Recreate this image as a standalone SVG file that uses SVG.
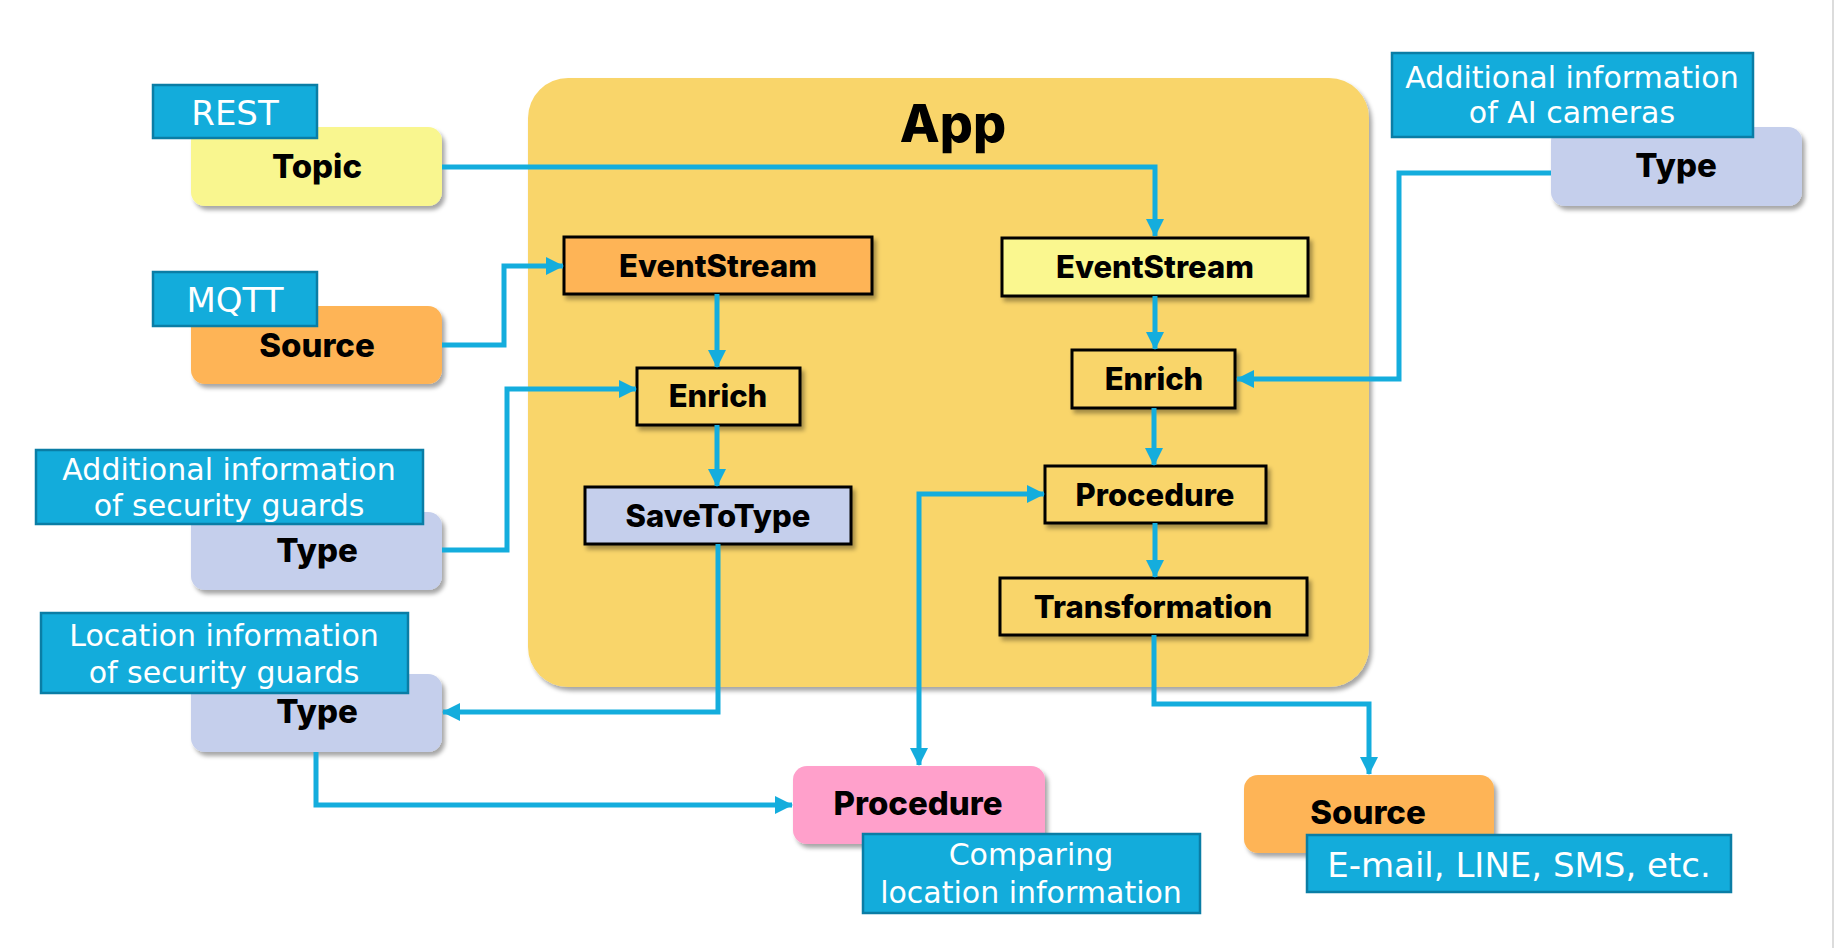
<svg xmlns="http://www.w3.org/2000/svg" width="1834" height="948" viewBox="0 0 1834 948">
<defs>
<filter id="sh" x="-10%" y="-10%" width="130%" height="140%">
<feDropShadow dx="3" dy="4" stdDeviation="2" flood-color="#000" flood-opacity="0.35"/>
</filter>
<marker id="ah" markerUnits="userSpaceOnUse" markerWidth="18" markerHeight="18" refX="17" refY="9" orient="auto-start-reverse">
<path d="M0,0 L18,9 L0,18 z" fill="#14ADDD"/>
</marker>
<style>
.ext{stroke:none;filter:url(#sh)}
.inn{stroke:#000;stroke-width:3;filter:url(#sh)}
.nt{font-family:Inter,"Lato","Liberation Sans",sans-serif;font-weight:800;fill:#000;text-anchor:middle}
.lb{fill:#13ACDB;stroke:#0A7DA5;stroke-width:2.5}
.lt{font-family:"DejaVu Sans",Verdana,sans-serif;fill:#fff;text-anchor:middle}
.c{fill:none;stroke:#14ADDD;stroke-width:5}
</style>
</defs>
<rect width="1834" height="948" fill="#fff"/>
<line x1="1833" y1="0" x2="1833" y2="948" stroke="#d0d0d0" stroke-width="1.5"/>

<g id="app">
<rect x="528" y="78" width="841" height="609" rx="40" fill="#F9D56A" class="ext"/>
<text x="953" y="142" class="nt" font-size="52" font-weight="900">App</text>
</g>

<g id="topic">
<rect x="191" y="127" width="251" height="79" rx="14" fill="#F9F68F" class="ext"/>
<text x="317" y="178" class="nt" font-size="33">Topic</text>
<rect x="153" y="85" width="164" height="53" class="lb"/>
<text x="235" y="125" class="lt" font-size="34">REST</text>
</g>

<g id="source-mqtt">
<rect x="191" y="306" width="251" height="78" rx="14" fill="#FEB456" class="ext"/>
<text x="317" y="357" class="nt" font-size="33">Source</text>
<rect x="153" y="272" width="164" height="54" class="lb"/>
<text x="235" y="312" class="lt" font-size="34">MQTT</text>
</g>

<g id="type-guards-info">
<rect x="191" y="512" width="251" height="78" rx="14" fill="#C5CFEC" class="ext"/>
<text x="317" y="562" class="nt" font-size="33">Type</text>
<rect x="36" y="450" width="387" height="74" class="lb"/>
<text x="229" y="480" class="lt" font-size="30">Additional information</text>
<text x="229" y="516" class="lt" font-size="30">of security guards</text>
</g>

<g id="type-guards-location">
<rect x="191" y="674" width="251" height="78" rx="14" fill="#C5CFEC" class="ext"/>
<rect x="41" y="613" width="367" height="80" class="lb"/>
<text x="224" y="646" class="lt" font-size="30">Location information</text>
<text x="224" y="683" class="lt" font-size="30">of security guards</text>
<text x="317" y="723" class="nt" font-size="33">Type</text>
</g>

<g id="type-cameras">
<rect x="1551" y="127" width="251" height="79" rx="14" fill="#C5CFEC" class="ext"/>
<text x="1676" y="177" class="nt" font-size="33">Type</text>
<rect x="1392" y="53" width="361" height="84" class="lb"/>
<text x="1572" y="88" class="lt" font-size="30">Additional information</text>
<text x="1572" y="123" class="lt" font-size="30">of AI cameras</text>
</g>

<g id="procedure-compare">
<rect x="793" y="766" width="252" height="78" rx="14" fill="#FFA0CB" class="ext"/>
<text x="918" y="815" class="nt" font-size="33">Procedure</text>
<rect x="863" y="834" width="337" height="79" class="lb"/>
<text x="1031" y="865" class="lt" font-size="30">Comparing</text>
<text x="1031" y="903" class="lt" font-size="30">location information</text>
</g>

<g id="source-notify">
<rect x="1244" y="775" width="250" height="78" rx="14" fill="#FEB456" class="ext"/>
<text x="1368" y="824" class="nt" font-size="33">Source</text>
<rect x="1307" y="835" width="424" height="57" class="lb"/>
<text x="1519" y="877" class="lt" font-size="34">E-mail, LINE, SMS, etc.</text>
</g>

<g id="eventstream-l">
<rect x="564" y="237" width="308" height="57" fill="#FEB456" class="inn"/>
<text x="718" y="277" class="nt" font-size="31">EventStream</text>
</g>
<g id="eventstream-r">
<rect x="1002" y="238" width="306" height="58" fill="#FAF78F" class="inn"/>
<text x="1155" y="278" class="nt" font-size="31">EventStream</text>
</g>
<g id="enrich-l">
<rect x="637" y="368" width="163" height="57" fill="#F9D56A" class="inn"/>
<text x="718" y="407" class="nt" font-size="31">Enrich</text>
</g>
<g id="savetotype">
<rect x="585" y="487" width="266" height="57" fill="#C5CFEC" class="inn"/>
<text x="718" y="527" class="nt" font-size="31">SaveToType</text>
</g>
<g id="enrich-r">
<rect x="1072" y="350" width="163" height="58" fill="#F9D56A" class="inn"/>
<text x="1154" y="390" class="nt" font-size="31">Enrich</text>
</g>
<g id="procedure-app">
<rect x="1045" y="466" width="221" height="57" fill="#F9D56A" class="inn"/>
<text x="1155" y="506" class="nt" font-size="31">Procedure</text>
</g>
<g id="transformation">
<rect x="1000" y="578" width="307" height="57" fill="#F9D56A" class="inn"/>
<text x="1153" y="618" class="nt" font-size="31">Transformation</text>
</g>

<g id="connectors">
<path class="c" d="M442,167 H1155 V236" marker-end="url(#ah)"/>
<path class="c" d="M442,345 H504 V266 H563" marker-end="url(#ah)"/>
<path class="c" d="M717,294 V367" marker-end="url(#ah)"/>
<path class="c" d="M442,550 H507 V389 H636" marker-end="url(#ah)"/>
<path class="c" d="M717,425 V486" marker-end="url(#ah)"/>
<path class="c" d="M718,544 V712 H443" marker-end="url(#ah)"/>
<path class="c" d="M1155,296 V349" marker-end="url(#ah)"/>
<path class="c" d="M1551,173 H1399 V379 H1237" marker-end="url(#ah)"/>
<path class="c" d="M1154,408 V465" marker-end="url(#ah)"/>
<path class="c" d="M1155,523 V577" marker-end="url(#ah)"/>
<path class="c" d="M1154,635 V704 H1369 V774" marker-end="url(#ah)"/>
<path class="c" d="M1044,494 H919 V765" marker-start="url(#ah)" marker-end="url(#ah)"/>
<path class="c" d="M316,752 V805 H792" marker-end="url(#ah)"/>
</g>
</svg>
